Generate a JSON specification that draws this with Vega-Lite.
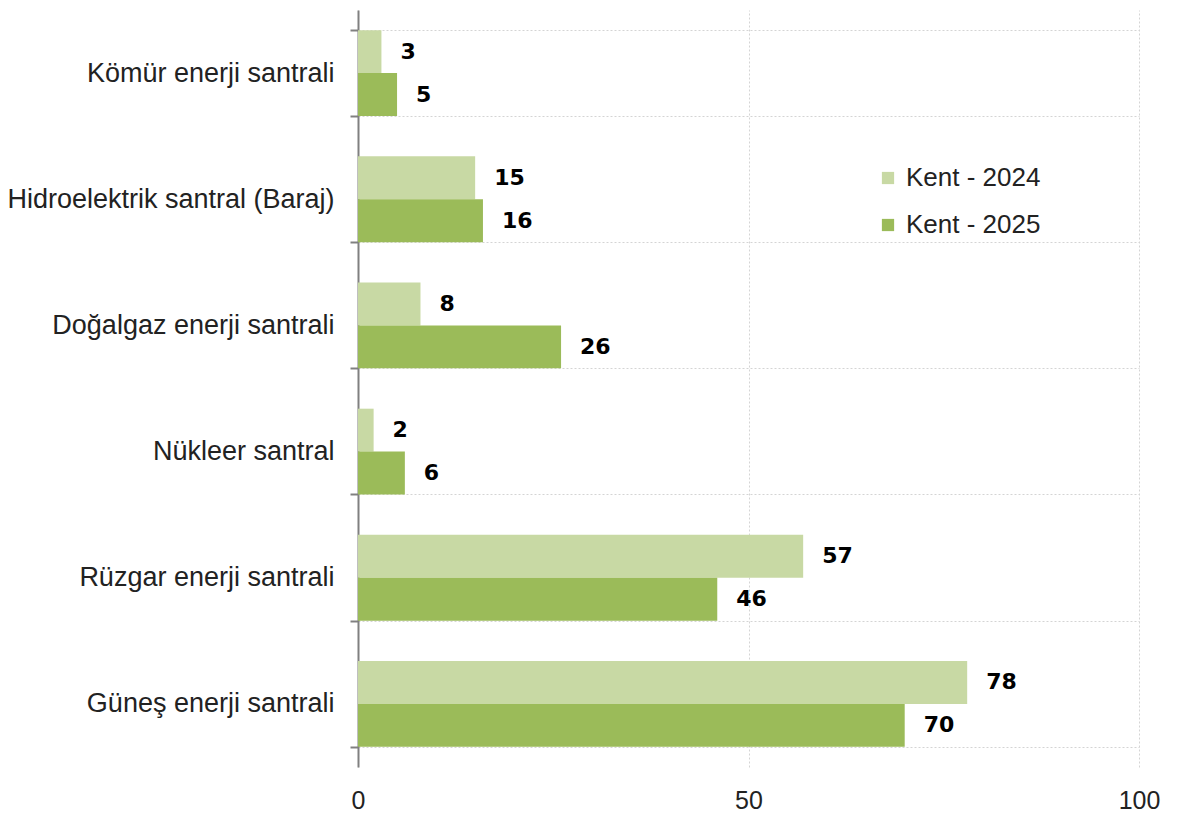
{
  "$schema": "https://vega.github.io/schema/vega-lite/v6.json",
  "autosize": {"type": "none"},
  "width": 781,
  "height": 757,
  "padding": {"left": 358, "top": 10, "right": 38, "bottom": 55},
  "background": "white",
  "data": {"values": [
    {"kategori": "Kömür enerji santrali", "yil": "Kent - 2024", "deger": 3},
    {"kategori": "Kömür enerji santrali", "yil": "Kent - 2025", "deger": 5},
    {"kategori": "Hidroelektrik santral (Baraj)", "yil": "Kent - 2024", "deger": 15},
    {"kategori": "Hidroelektrik santral (Baraj)", "yil": "Kent - 2025", "deger": 16},
    {"kategori": "Doğalgaz enerji santrali", "yil": "Kent - 2024", "deger": 8},
    {"kategori": "Doğalgaz enerji santrali", "yil": "Kent - 2025", "deger": 26},
    {"kategori": "Nükleer santral", "yil": "Kent - 2024", "deger": 2},
    {"kategori": "Nükleer santral", "yil": "Kent - 2025", "deger": 6},
    {"kategori": "Rüzgar enerji santrali", "yil": "Kent - 2024", "deger": 57},
    {"kategori": "Rüzgar enerji santrali", "yil": "Kent - 2025", "deger": 46},
    {"kategori": "Güneş enerji santrali", "yil": "Kent - 2024", "deger": 78},
    {"kategori": "Güneş enerji santrali", "yil": "Kent - 2025", "deger": 70}
  ]},
  "encoding": {
    "y": {
      "field": "kategori", "type": "nominal", "sort": null, "title": null,
      "scale": {"paddingInner": 0.32, "paddingOuter": 0.16},
      "axis": {
        "tickBand": "extent", "domainColor": "#808080", "domainWidth": 2,
        "tickColor": "#808080", "tickWidth": 2, "tickSize": 8,
        "labelFont": "Liberation Sans", "labelFontSize": 27, "labelColor": "#222222",
        "labelPadding": 16, "labelLimit": 400,
        "grid": true, "gridColor": "#d4d4d4", "gridDash": [2, 2], "gridWidth": 1
      }
    },
    "yOffset": {"field": "yil", "type": "nominal", "sort": ["Kent - 2024", "Kent - 2025"]},
    "x": {
      "field": "deger", "type": "quantitative", "title": null,
      "scale": {"domain": [0, 100]},
      "axis": {
        "values": [0, 50, 100], "domain": false, "ticks": false,
        "labelFont": "Liberation Sans", "labelFontSize": 25, "labelColor": "#222222",
        "labelPadding": 21, "labelFlush": false,
        "grid": true, "gridColor": "#d4d4d4", "gridDash": [2, 2], "gridWidth": 1
      }
    }
  },
  "layer": [
    {
      "mark": {"type": "bar"},
      "encoding": {
        "color": {
          "field": "yil", "type": "nominal",
          "scale": {"domain": ["Kent - 2024", "Kent - 2025"], "range": ["#C8D9A4", "#9BBB59"]},
          "legend": {
            "title": null, "orient": "none", "legendX": 517, "legendY": 155,
            "symbolType": "square", "symbolSize": 150, "symbolStrokeWidth": 0,
            "labelFont": "Liberation Sans", "labelFontSize": 26, "labelColor": "#222222",
            "rowPadding": 21, "labelOffset": 5
          }
        }
      }
    },
    {
      "mark": {"type": "text", "align": "left", "baseline": "middle", "dx": 19,
               "font": "DejaVu Sans", "fontWeight": "bold", "fontSize": 22, "color": "#000000"},
      "encoding": {"text": {"field": "deger", "type": "quantitative"}}
    }
  ],
  "config": {"view": {"stroke": null}}
}
